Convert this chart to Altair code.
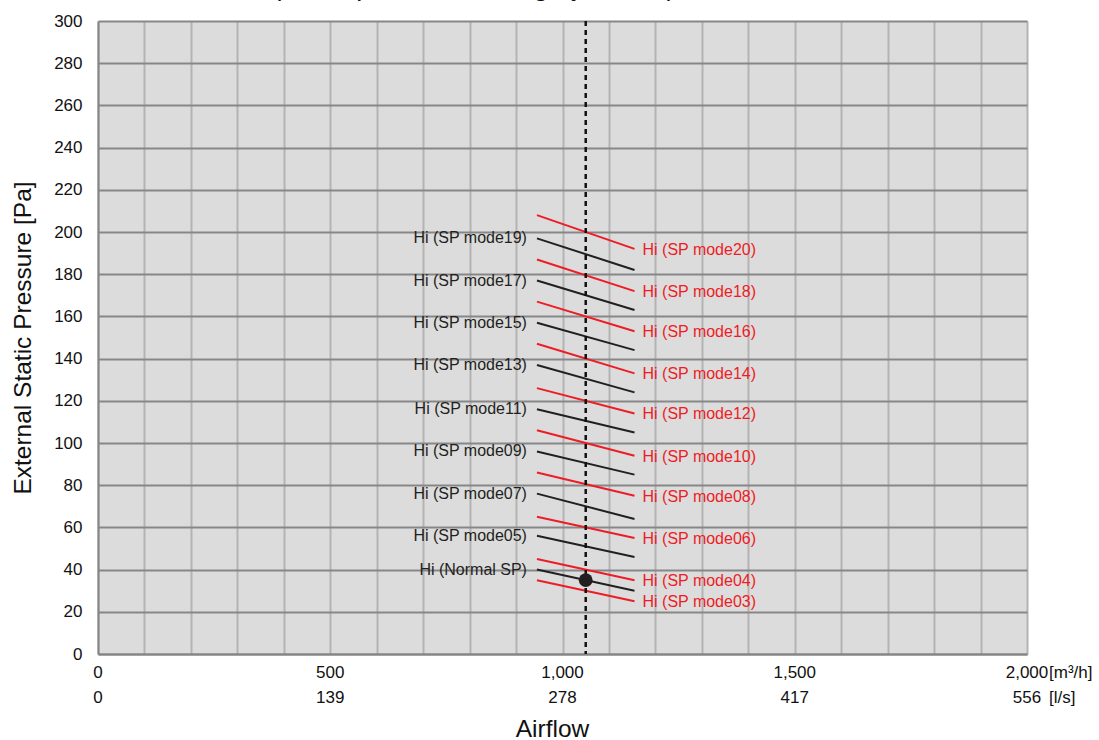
import altair as alt
import pandas as pd

FONT = "Liberation Sans"

# Airflow range covered by each fan-curve segment [m3/h]
flow_start = 945
flow_end = 1155

# Odd static-pressure modes (black), pressure at start / end of segment [Pa]
black_modes = ["Hi (SP mode19)", "Hi (SP mode17)", "Hi (SP mode15)", "Hi (SP mode13)",
               "Hi (SP mode11)", "Hi (SP mode09)", "Hi (SP mode07)", "Hi (SP mode05)",
               "Hi (Normal SP)"]
black_start = [197, 177, 157, 137, 116, 96, 76, 56, 40]
black_end = [182, 163, 144, 124, 105, 85, 64, 46, 30]

# Even static-pressure modes (red)
red_modes = ["Hi (SP mode20)", "Hi (SP mode18)", "Hi (SP mode16)", "Hi (SP mode14)",
             "Hi (SP mode12)", "Hi (SP mode10)", "Hi (SP mode08)", "Hi (SP mode06)",
             "Hi (SP mode04)", "Hi (SP mode03)"]
red_start = [208, 187, 167, 147, 126, 106, 86, 65, 45, 35]
red_end = [192, 172, 153, 133, 114, 94, 75, 55, 35, 25]

# Rated operating point
rated_flow = 1050
rated_pressure = 35

# Airflow tick labels in both units
flow_ticks_m3h = [0, 500, 1000, 1500, 2000]
flow_ticks_ls = [0, 139, 278, 417, 556]

title_text = "(Static pressure setting by switch)"

W, H = 929, 633
BLACK = "#231f20"
RED = "#ee1c25"

rows = []
for name, a, b in zip(black_modes, black_start, black_end):
    rows += [dict(mode=name, series="black", flow=flow_start, pa=a),
             dict(mode=name, series="black", flow=flow_end, pa=b)]
for name, a, b in zip(red_modes, red_start, red_end):
    rows += [dict(mode=name, series="red", flow=flow_start, pa=a),
             dict(mode=name, series="red", flow=flow_end, pa=b)]
segments = pd.DataFrame(rows)

black_labels = pd.DataFrame({"mode": black_modes, "flow": flow_start, "pa": black_start})
red_labels = pd.DataFrame({"mode": red_modes, "flow": flow_end, "pa": red_end})
ticks = pd.DataFrame({"m3h": flow_ticks_m3h, "ls": flow_ticks_ls})
point = pd.DataFrame({"flow": [rated_flow], "pa": [rated_pressure]})

x_scale = alt.Scale(domain=[0, 2000], nice=False, zero=True)
y_scale = alt.Scale(domain=[0, 300], nice=False, zero=True)

x_enc = alt.X("flow:Q", scale=x_scale, axis=alt.Axis(
    values=list(range(0, 2001, 100)), labels=False, ticks=False,
    grid=True, gridColor="#b3b3b3", gridWidth=2,
    domainColor="#858585", domainWidth=2,
    title="Airflow", titleFont=FONT, titleFontSize=24.5, titleFontWeight="normal",
    titleColor="#111111", titlePadding=63, titleX=454))
y_enc = alt.Y("pa:Q", scale=y_scale, axis=alt.Axis(
    values=list(range(0, 301, 10)),
    labelExpr="datum.value % 20 === 0 ? datum.label : ''",
    labelFont=FONT, labelFontSize=17, labelColor="#111111", labelPadding=16,
    ticks=False,
    grid=True, gridWidth=2,
    gridColor=alt.condition("datum.value % 20 === 0", alt.value("#878787"), alt.value("#b3b3b3")),
    domainColor="#858585", domainWidth=2,
    title="External Static Pressure [Pa]", titleFont=FONT, titleFontSize=24.5,
    titleFontWeight="normal", titleColor="#111111", titlePadding=18))

lines = alt.Chart(segments).mark_line(strokeWidth=2).encode(
    x=x_enc, y=y_enc, detail="mode:N",
    color=alt.Color("series:N", scale=alt.Scale(domain=["black", "red"], range=[BLACK, RED]),
                    legend=None),
)

rated_line = alt.Chart(point).mark_rule(
    color="#111111", strokeWidth=2.5, strokeDash=[5, 4]
).encode(x=alt.X("flow:Q", scale=x_scale))

rated_dot = alt.Chart(point).mark_circle(size=190, color=BLACK, opacity=1).encode(
    x=alt.X("flow:Q", scale=x_scale), y=alt.Y("pa:Q", scale=y_scale))

left_text = alt.Chart(black_labels).mark_text(
    align="right", baseline="middle", dx=-10, dy=0, font=FONT, fontSize=16, color=BLACK
).encode(x=alt.X("flow:Q", scale=x_scale), y=alt.Y("pa:Q", scale=y_scale), text="mode:N")

right_text = alt.Chart(red_labels).mark_text(
    align="left", baseline="middle", dx=8, dy=1, font=FONT, fontSize=16, color=RED
).encode(x=alt.X("flow:Q", scale=x_scale), y=alt.Y("pa:Q", scale=y_scale), text="mode:N")

tick_m3h = alt.Chart(ticks).mark_text(
    align="center", baseline="middle", font=FONT, fontSize=17, color="#111111"
).encode(x=alt.X("m3h:Q", scale=x_scale), y=alt.value(H + 19),
         text=alt.Text("m3h:Q", format=","))

tick_ls = alt.Chart(ticks).mark_text(
    align="center", baseline="middle", font=FONT, fontSize=17, color="#111111"
).encode(x=alt.X("m3h:Q", scale=x_scale), y=alt.value(H + 44),
         text=alt.Text("ls:Q", format="d"))

units = pd.DataFrame({"m3h": [2000, 2000], "unit": ["[m³/h]", "[l/s]"], "row": [H + 19, H + 44]})
unit_text = alt.Chart(units).mark_text(
    align="left", baseline="middle", dx=22, font=FONT, fontSize=17, color="#111111"
).encode(x=alt.X("m3h:Q", scale=x_scale), y=alt.Y("row:Q", scale=None), text="unit:N")

title = alt.Chart(pd.DataFrame({"t": [title_text]})).mark_text(
    align="center", baseline="alphabetic", font=FONT, fontSize=27, color="#111111"
).encode(x=alt.value(376), y=alt.value(-26), text="t:N")

chart = alt.layer(
    lines, rated_line, rated_dot, left_text, right_text, tick_m3h, tick_ls, unit_text, title
).properties(
    width=W, height=H,
    autosize=alt.AutoSizeParams(type="none"),
    padding={"left": 98, "top": 21, "right": 72, "bottom": 86},
    background="white",
).configure_view(fill="#dcdcdc", strokeWidth=0)

chart.save("out.html", embed_options={"renderer": "svg", "actions": False})
